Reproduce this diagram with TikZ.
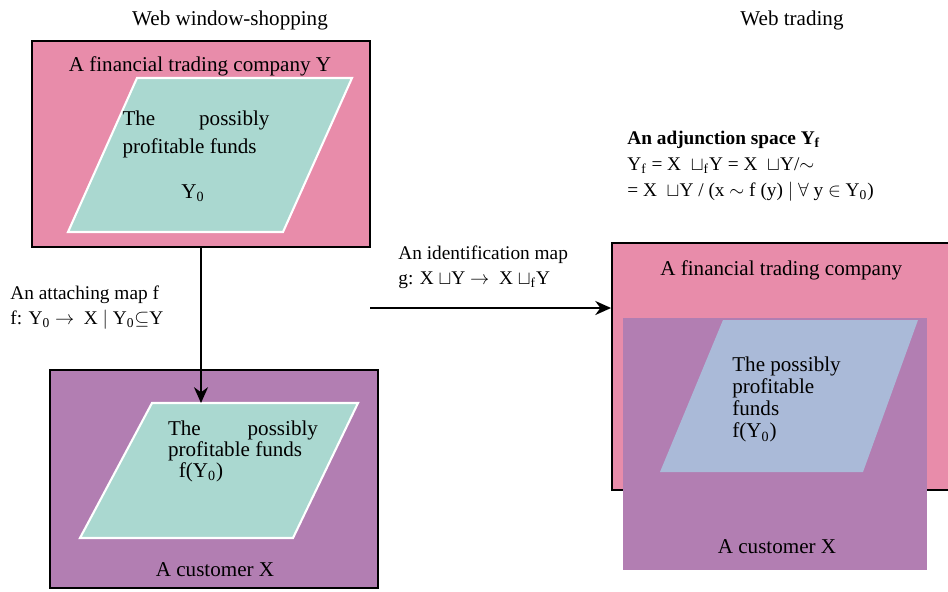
\documentclass[tikz,border=0pt]{standalone}
\usepackage{fontspec}
\setmainfont{Liberation Serif}
\usepackage{amsmath}
\usepackage{amssymb}
\usepackage{tikz}
\usetikzlibrary{positioning, arrows.meta, calc}

\definecolor{rosa}{RGB}{232,140,170}
\definecolor{viola}{RGB}{178,126,178}
\definecolor{verde}{RGB}{170,216,208}
\definecolor{azzurro}{RGB}{170,186,216}

\begin{document}
\begin{tikzpicture}[
    x=0.02cm, y=-0.02cm,
    box/.style={draw, line width=1.1pt, inner sep=0pt},
    txt/.style={inner sep=0pt, font=\fontsize{12}{14}\selectfont},
    lab/.style={inner sep=0pt, anchor=west, font=\fontsize{11}{13}\selectfont},
    para/.style={inner sep=0pt, align=justify},
    arr/.style={-{Stealth[length=9pt, width=8pt]}, line width=1.2pt}
]
\useasboundingbox (0,0) rectangle (948,592);

% Titoli
\node[txt] (ws) at (230,20) {Web window-shopping};
\node[txt] (wt) at (792,20) {Web trading};

% Azienda Y
\node[box, fill=rosa, minimum width=6.76cm, minimum height=4.12cm] (Y) at (201,144) {};
\filldraw[fill=verde, draw=white, line width=1.2pt] (137,78) -- (352,78) -- (283,232) -- (68,232) -- cycle;
\node[txt] (Ylab) at (200,66) {A financial trading company Y};
\node[para, text width=2.94cm, font=\fontsize{12}{16}\selectfont] (Yfunds) at (196,134) {The possibly profitable funds};
\node[txt] (Y0) at (193,193) {Y\textsubscript{0}};

% Cliente X
\node[box, fill=viola, minimum width=6.56cm, minimum height=4.36cm] (X) at (214,479) {};
\filldraw[fill=verde, draw=white, line width=1.2pt] (152,403) -- (358,403) -- (293,538) -- (80,538) -- cycle;
\coordinate (fX) at (201,403);
\node[para, text width=3.0cm, font=\fontsize{12}{11}\selectfont] (Xfunds) at (243,441) {The possibly profitable funds};
\node[txt] (fY0) at (201,472) {f(Y\textsubscript{0})};
\node[txt] (Xlab) at (215,570) {A customer X};

% Mappa di attaccamento
\node[lab] (attach) at (10,295) {An attaching map f};
\node[lab] (fmap) at (10,320) {f: Y\textsubscript{0} $\rightarrow$\enspace X $\mid$ Y\textsubscript{0}$\subseteq$Y};

% Spazio di aggiunzione
\node[lab] (adj) at (627,140) {\textbf{An adjunction space Y\textsubscript{f}}};
\node[lab] (adj1) at (627,166) {Y\textsubscript{f} = X\enspace$\sqcup$\textsubscript{f}Y = X\enspace$\sqcup$Y/$\sim$};
\node[lab] (adj2) at (627,192) {= X\enspace$\sqcup$Y / (x $\sim$ f (y) $\mid$ $\forall$ y $\in$ Y\textsubscript{0})};

% Mappa di identificazione
\node[lab] (ident) at (398,255) {An identification map};
\node[lab] (gmap) at (398,280) {g: X $\sqcup$Y $\rightarrow$\enspace X $\sqcup$\textsubscript{f}Y};

% Lato destro
\node[box, fill=rosa, minimum width=7.16cm, minimum height=4.94cm] (Yr) at (791,366.5) {};
\node[fill=viola, inner sep=0pt, minimum width=6.08cm, minimum height=5.04cm] (Xr) at (775,444) {};
\fill[azzurro] (723,320) -- (918,320) -- (863,472) -- (660,472) -- cycle;
\node[lab, font=\fontsize{12}{14}\selectfont] (Yrlab) at (660,270) {A financial trading company};
\node[txt, anchor=north west, align=left, font=\fontsize{12}{12.5}\selectfont] (Xrfunds) at (732,357) {The possibly\\profitable\\funds\\f(Y\textsubscript{0})};
\node[txt] (Xrlab) at (777,547) {A customer X};

% Frecce
\draw[arr] (Y.south) -- (fX);
\coordinate (g0) at (370,308);
\draw[arr] (g0) -- (g0 -| Yr.west);

\end{tikzpicture}
\end{document}
